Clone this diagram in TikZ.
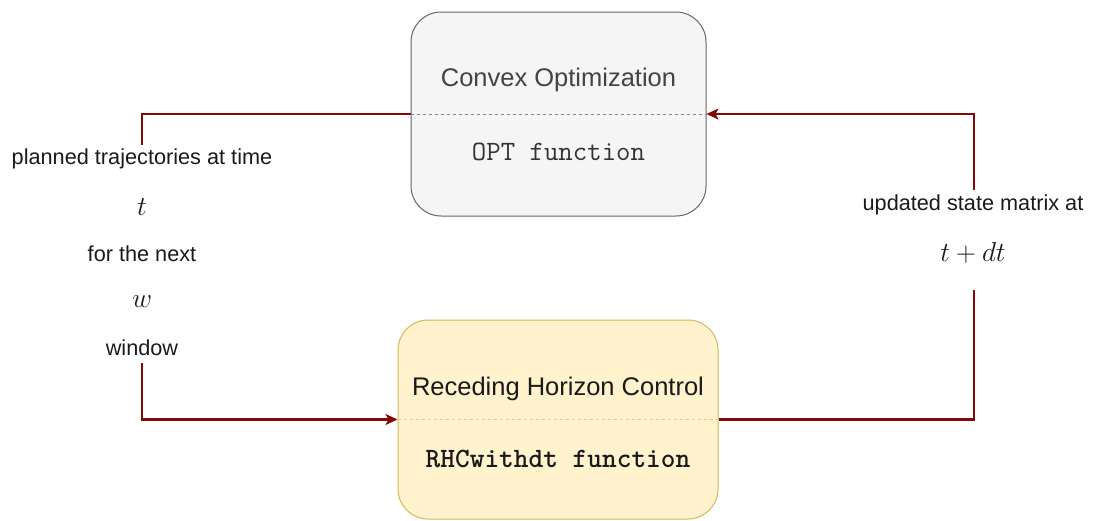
\RequirePackage{fix-cm}
\documentclass[tikz,border=0pt]{standalone}
\usepackage{fontspec}
\setmainfont{Liberation Sans}
\usetikzlibrary{arrows.meta}

\definecolor{optfill}{HTML}{F5F5F5}
\definecolor{optline}{HTML}{666666}
\definecolor{optink}{HTML}{444444}
\definecolor{rhcfill}{HTML}{FFF2CC}
\definecolor{rhcline}{HTML}{D6B656}
\definecolor{flowred}{HTML}{850808}
\definecolor{labink}{HTML}{1A1A1A}

\tikzset{
  procbox/.style={rectangle, rounded corners=30pt, line width=1pt, inner sep=0pt},
  boxtitle/.style={font=\fontsize{25.5}{30}\selectfont, inner sep=0pt},
  boxcode/.style={font=\fontsize{28}{32}\selectfont\ttfamily, inner sep=0pt},
  lab/.style={font=\fontsize{21.7}{26}\selectfont, text=labink, inner sep=0pt},
  mathlab/.style={font=\fontsize{27.5}{32}\selectfont, text=labink, inner sep=0pt},
  flow/.style={draw=flowred, line width=2.2pt},
  tip/.style={-{Stealth[length=12pt,width=11pt,inset=3pt]}},
}

\begin{document}
\begin{tikzpicture}[x=1pt,y=-1pt]
\useasboundingbox (0,0) rectangle (1096,520);

% solver box
\node[procbox, draw=optline, fill=optfill, minimum width=295pt, minimum height=204pt] (opt) at (558.5,114) {};
\draw[optline!80, dashed, line width=0.8pt] (opt.west) -- (opt.east);
\node[boxtitle, text=optink] (optT) at (558.5,80) {Convex Optimization};
\node[boxcode, text=optink!75!black] (optC) at (558.5,152) {OPT function};

% controller box
\node[procbox, draw=rhcline, fill=rhcfill, minimum width=320pt, minimum height=199pt] (rhc) at (558,419.5) {};
\draw[rhcline!70, dashed, line width=0.8pt] (rhc.west) -- (rhc.east);
\node[boxtitle, text=labink] (rhcT) at (558,389) {Receding Horizon Control};
\node[boxcode, text=labink, font=\fontsize{28}{32}\selectfont\ttfamily\bfseries] (rhcC) at (558,459) {RHCwithdt function};

% left labels
\node[lab] (l1) at (142,159) {planned trajectories at time};
\node[mathlab] (l2) at (142,207) {$t$};
\node[lab] (l3) at (142,254) {for the next};
\node[mathlab] (l4) at (142,302) {$w$};
\node[lab] (l5) at (142,348) {window};

% right labels
\node[lab] (r1) at (973,205) {updated state matrix at};
\node[mathlab] (r2) at (973,253) {$t+dt$};

% connector ends around the labels
\coordinate (lTop) at (142,145);
\coordinate (lBot) at (142,363);
\coordinate (rTop) at (974,190);
\coordinate (rBot) at (974,290);

% plan from the solver to the controller
\draw[flow] (opt.west) -| (lTop);
\draw[flow, tip] (lBot) |- (rhc.west);

% updated state back to the solver
\draw[flow] (rhc.east) -| (rBot);
\draw[flow, tip] (rTop) |- (opt.east);
\end{tikzpicture}
\end{document}
